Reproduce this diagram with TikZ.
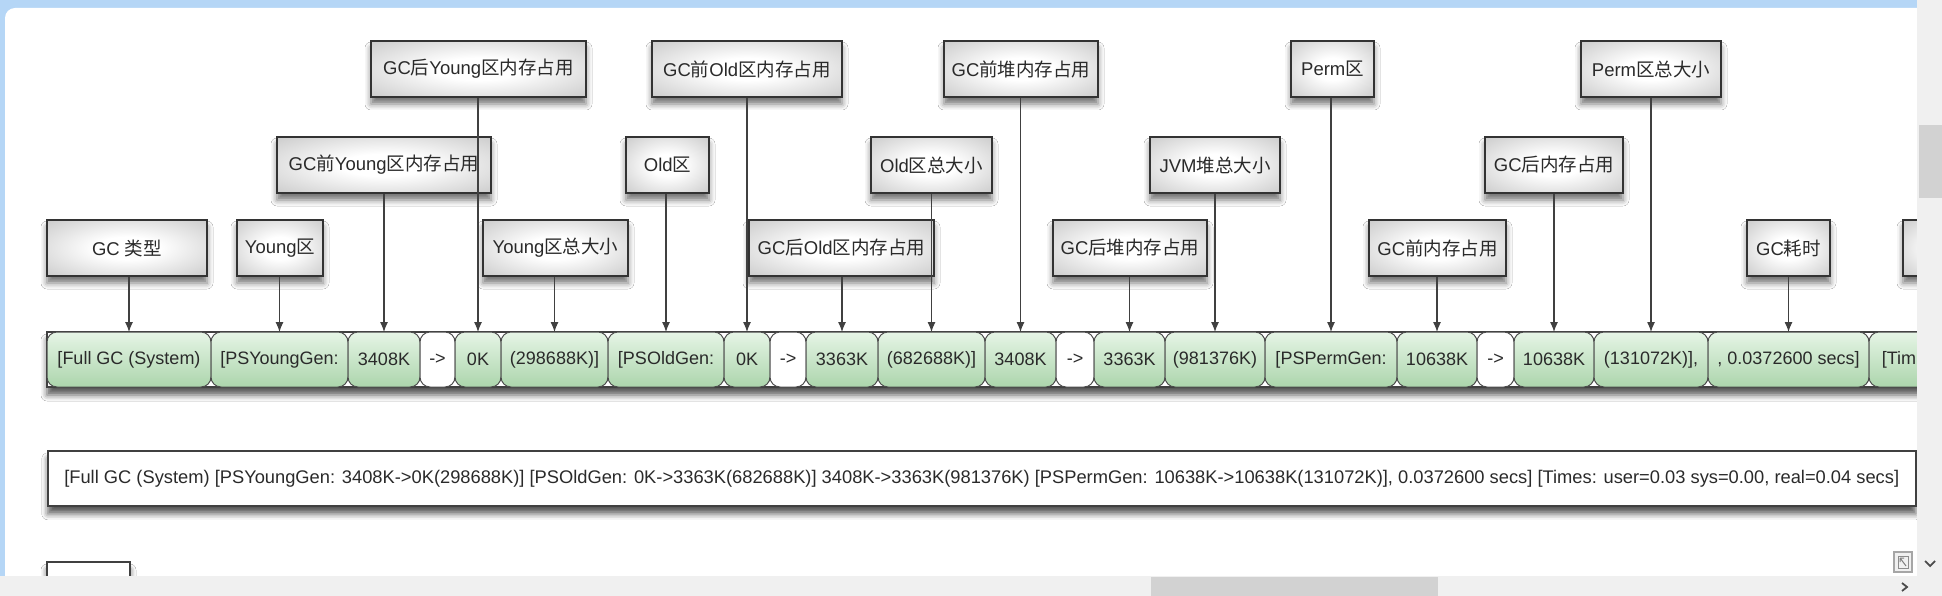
\documentclass[tikz,border=0pt]{standalone}
\usepackage{fontspec}
\setmainfont{Liberation Sans}
\newfontfamily\cjk{Noto Sans CJK SC}
\usepackage{tikz}
\usetikzlibrary{positioning, arrows.meta, shadows.blur}

\definecolor{chrome}{HTML}{B5D6F6}
\definecolor{barbg}{HTML}{F0F0F0}
\definecolor{thumb}{HTML}{D2D2D2}
\definecolor{celltop}{HTML}{E6F5E6}
\definecolor{cellbot}{HTML}{ACD5AC}
\definecolor{ink}{HTML}{2A2A2A}

\pgfdeclareradialshading{lblshade}{\pgfpoint{0bp}{0bp}}{color(0bp)=(white); color(10bp)=(white); color(38bp)=(black!22); color(55bp)=(black!36); color(75bp)=(black!44)}

\newcommand{\zh}[1]{{\cjk #1}}

\begin{document}
\begin{tikzpicture}[
    x=1pt, y=-1pt,
    lbl/.style={
        rectangle,
        draw=black!80,
        line width=1.6pt,
        shading=lblshade,
        minimum height=56pt,
        inner sep=0pt,
        text=ink,
        font=\fontsize{18.5}{22}\selectfont,
        blur shadow={shadow xshift=0pt, shadow yshift=-7pt, shadow blur radius=6pt, shadow opacity=55}
    },
    cell/.style={
        rectangle,
        rounded corners=10pt,
        draw=black!70,
        line width=1pt,
        top color=celltop,
        bottom color=cellbot,
        minimum height=55pt,
        inner sep=0pt,
        outer sep=0pt,
        text=ink,
        font=\fontsize{18}{21}\selectfont
    },
    arrowcell/.style={cell, top color=white, bottom color=white},
    frame/.style={
        draw=black!75,
        line width=1.6pt,
        fill=white,
        blur shadow={shadow xshift=0pt, shadow yshift=-8pt, shadow blur radius=6pt, shadow opacity=65}
    },
    line/.style={draw=black!75, line width=1.1pt, -{Latex[length=10pt, width=8pt]}}
]
\useasboundingbox (0,0) rectangle (1942,596);

% window
\fill[chrome] (0,0) rectangle (1917,577);
\fill[white, rounded corners=10pt] (5,8) rectangle (1935,595);

\begin{scope}
\clip (5,8) rectangle (1917,577);

% labels
\node (yafterlbl) [lbl, minimum width=215pt] at (478.5,69) {GC\zh{后}Young\zh{区内存占用}};
\node (obeforelbl) [lbl, minimum width=190pt] at (747,69) {GC\zh{前}Old\zh{区内存占用}};
\node (hbeforelbl) [lbl, minimum width=154pt] at (1021,69) {GC\zh{前堆内存占用}};
\node (pgenlbl) [lbl, minimum width=83pt] at (1332.5,69) {Perm\zh{区}};
\node (ptotallbl) [lbl, minimum width=140pt] at (1651,69) {Perm\zh{区总大小}};

\node (ybeforelbl) [lbl, minimum width=214pt] at (384,165) {GC\zh{前}Young\zh{区内存占用}};
\node (ogenlbl) [lbl, minimum width=83pt] at (667.5,165) {Old\zh{区}};
\node (ototallbl) [lbl, minimum width=121pt] at (931.5,165) {Old\zh{区总大小}};
\node (htotallbl) [lbl, minimum width=130pt] at (1215,165) {JVM\zh{堆总大小}};
\node (pafterlbl) [lbl, minimum width=138pt] at (1554,165) {GC\zh{后内存占用}};

\node (typelbl) [lbl, minimum width=160pt] at (127,248) {GC \zh{类型}};
\node (ygenlbl) [lbl, minimum width=86pt] at (280,248) {Young\zh{区}};
\node (ytotallbl) [lbl, minimum width=145pt] at (555.5,248) {Young\zh{区总大小}};
\node (oafterlbl) [lbl, minimum width=185pt] at (841.5,248) {GC\zh{后}Old\zh{区内存占用}};
\node (hafterlbl) [lbl, minimum width=154pt] at (1130,248) {GC\zh{后堆内存占用}};
\node (pbeforelbl) [lbl, minimum width=137pt] at (1437.5,248) {GC\zh{前内存占用}};
\node (gctimelbl) [lbl, minimum width=83pt] at (1788.5,248) {GC\zh{耗时}};
\node (timeslbl) [lbl, minimum width=83pt] at (1944.5,248) {};

% the log line cut into pieces
\path[frame] (47,332) rectangle (1940,387);
\node (fullgc) [cell, minimum width=164pt, anchor=north west] at (47,332) {[Full GC (System)};
\node (ygen) [cell, minimum width=137pt, right=0pt of fullgc] {[PSYoungGen:};
\node (ybefore) [cell, minimum width=72pt, right=0pt of ygen] {3408K};
\node (yarrow) [arrowcell, minimum width=35pt, right=0pt of ybefore] {->};
\node (yafter) [cell, minimum width=46pt, right=0pt of yarrow] {0K};
\node (ytotal) [cell, minimum width=107pt, right=0pt of yafter] {(298688K)]};
\node (ogen) [cell, minimum width=116pt, right=0pt of ytotal] {[PSOldGen:};
\node (obefore) [cell, minimum width=46pt, right=0pt of ogen] {0K};
\node (oarrow) [arrowcell, minimum width=36pt, right=0pt of obefore] {->};
\node (oafter) [cell, minimum width=72pt, right=0pt of oarrow] {3363K};
\node (ototal) [cell, minimum width=107pt, right=0pt of oafter] {(682688K)]};
\node (hbefore) [cell, minimum width=71pt, right=0pt of ototal] {3408K};
\node (harrow) [arrowcell, minimum width=38pt, right=0pt of hbefore] {->};
\node (hafter) [cell, minimum width=71pt, right=0pt of harrow] {3363K};
\node (htotal) [cell, minimum width=100pt, right=0pt of hafter] {(981376K)};
\node (pgen) [cell, minimum width=132pt, right=0pt of htotal] {[PSPermGen:};
\node (pbefore) [cell, minimum width=80pt, right=0pt of pgen] {10638K};
\node (parrow) [arrowcell, minimum width=37pt, right=0pt of pbefore] {->};
\node (pafter) [cell, minimum width=80pt, right=0pt of parrow] {10638K};
\node (ptotal) [cell, minimum width=114pt, right=0pt of pafter] {(131072K)],};
\node (gctime) [cell, minimum width=161pt, right=0pt of ptotal] {, 0.0372600 secs]};
\node (times) [cell, minimum width=60pt, right=0pt of gctime] {[Tim};

% connectors
\path [line] (fullgc.north |- typelbl.south) -- (fullgc.north);
\path [line] (ygen.north |- ygenlbl.south) -- (ygen.north);
\path [line] (ybefore.north |- ybeforelbl.south) -- (ybefore.north);
\path [line] (yafter.north |- yafterlbl.south) -- (yafter.north);
\path [line] (ytotal.north |- ytotallbl.south) -- (ytotal.north);
\path [line] (ogen.north |- ogenlbl.south) -- (ogen.north);
\path [line] (obefore.north |- obeforelbl.south) -- (obefore.north);
\path [line] (oafter.north |- oafterlbl.south) -- (oafter.north);
\path [line] (ototal.north |- ototallbl.south) -- (ototal.north);
\path [line] (hbefore.north |- hbeforelbl.south) -- (hbefore.north);
\path [line] (hafter.north |- hafterlbl.south) -- (hafter.north);
\path [line] (htotal.north |- htotallbl.south) -- (htotal.north);
\path [line] (pgen.north |- pgenlbl.south) -- (pgen.north);
\path [line] (pbefore.north |- pbeforelbl.south) -- (pbefore.north);
\path [line] (pafter.north |- pafterlbl.south) -- (pafter.north);
\path [line] (ptotal.north |- ptotallbl.south) -- (ptotal.north);
\path [line] (gctime.north |- gctimelbl.south) -- (gctime.north);

% whole line
\node (logline) [frame, minimum width=1868pt, minimum height=55pt, anchor=north west, text=ink, font=\fontsize{18.3}{21}\selectfont] at (47,450) {[Full GC (System) [PSYoungGen: 3408K->0K(298688K)] [PSOldGen: 0K->3363K(682688K)] 3408K->3363K(981376K) [PSPermGen: 10638K->10638K(131072K)], 0.0372600 secs] [Times: user=0.03 sys=0.00, real=0.04 secs]};

\path[frame] (47,562) rectangle (130,600);
\end{scope}

% scroll bars
\fill[barbg] (1917,0) rectangle (1942,596);
\fill[thumb] (1919,125) rectangle (1942,198);
\fill[barbg] (0,576) rectangle (1942,596);
\fill[thumb] (1151,577) rectangle (1438,596);
\draw[black!35, line width=1.5pt, fill=black!6] (1894,552) rectangle (1912,572);
\draw[black!45, line width=1pt] (1898,556) rectangle (1908,568);
\draw[black!50, line width=1pt] (1906,566) -- (1900,558) (1900,558) -- (1900,562) (1900,558) -- (1904,558);
\draw[black!70, line width=1.8pt] (1925,561) -- (1930,566) -- (1935,561);
\draw[black!70, line width=1.8pt] (1902,583) -- (1907,587) -- (1902,591);
\end{tikzpicture}
\end{document}
